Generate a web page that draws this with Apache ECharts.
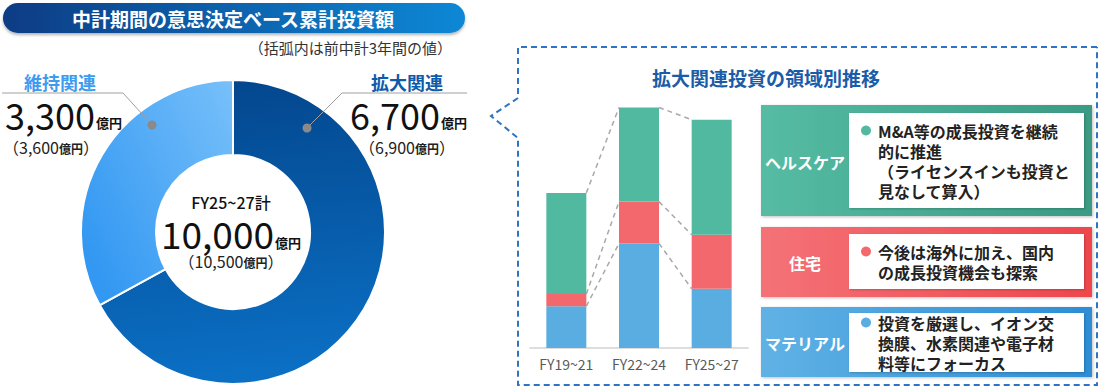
<!DOCTYPE html>
<html><head><meta charset="utf-8">
<script src="https://cdn.jsdelivr.net/npm/echarts@6/dist/echarts.min.js"></script>
<style>html,body{margin:0;padding:0;background:#fff;}#c{width:1100px;height:391px;}</style>
</head><body><div id="c"></div>
<script>
// ---- data ----
const donutNames = ['拡大関連', '維持関連'];
const donutValues = [6700, 3300];
const donutPrevValues = [6900, 3600];
const donutTotal = 10000;
const donutPrevTotal = 10500;
const totalPeriodLabel = 'FY25~27計';

const categories = ['FY19~21', 'FY22~24', 'FY25~27'];
const materialValues = [1200, 3000, 1700];
const housingValues = [350, 1200, 1550];
const healthcareValues = [2900, 2700, 3300];

const areaLabels = ['ヘルスケア', '住宅', 'マテリアル'];
const areaTexts = [
  'M&A等の成長投資を継続\n的に推進\n（ライセンスインも投資と\n見なして算入）',
  '今後は海外に加え、国内\nの成長投資機会も探索',
  '投資を厳選し、イオン交\n換膜、水素関連や電子材\n料等にフォーカス'
];

// ---- styles ----
const FONT = '"Noto Sans CJK JP", "Noto Sans", sans-serif';
const C_GREEN = '#52b9a1', C_RED = '#f2686c', C_BLUE = '#5aade1';
const BAR_W = 40;
const fmt = v => v.toLocaleString('en-US');

function grad(x, y, x2, y2, c1, c2) {
  return new echarts.graphic.LinearGradient(x, y, x2, y2, [{offset: 0, color: c1}, {offset: 1, color: c2}]);
}

function numText(x, y, value, size, align) {
  return {
    type: 'text', z: 100,
    style: {
      x: x, y: y, align: align, verticalAlign: 'middle',
      text: '{n|' + fmt(value) + '}{u|億円}',
      rich: {
        n: {fontSize: size, fontFamily: FONT, fill: '#111', fontWeight: 'normal', lineHeight: size * 0.9},
        u: {fontSize: 13, fontFamily: FONT, fill: '#111', fontWeight: 'bold', verticalAlign: 'bottom', padding: [0, 0, 1, 1], lineHeight: 14}
      }
    }
  };
}
function prevText(x, y, value, align) {
  return {
    type: 'text', z: 100,
    style: {
      x: x, y: y, align: align, verticalAlign: 'middle',
      text: '{p|（' + fmt(value) + '}{u|億円}{p|）}',
      rich: {
        p: {fontSize: 16, fontFamily: FONT, fill: '#222', lineHeight: 18},
        u: {fontSize: 12, fontFamily: FONT, fill: '#222', fontWeight: 'bold', verticalAlign: 'bottom', padding: [0, 0, 1, 0], lineHeight: 14}
      }
    }
  };
}

const boxes = [
  {y: 105, h: 111, iy: 113, ih: 95, c1: '#55bca3', c2: '#3a9a83', dot: C_GREEN},
  {y: 227, h: 70, iy: 234, ih: 55, c1: '#f47277', c2: '#ed474d', dot: C_RED},
  {y: 307, h: 70, iy: 313, ih: 59, c1: '#60b2e5', c2: '#2d8dd5', dot: C_BLUE}
];
const boxGraphics = [];
boxes.forEach((b, i) => {
  const lines = areaTexts[i].split('\n').length;
  const textTop = b.iy + b.ih / 2 - lines * 10;
  boxGraphics.push(
    {type: 'rect', z: 90, shape: {x: 761, y: b.y, width: 331, height: b.h},
     style: {fill: grad(0, 0, 1, 0, b.c1, b.c2), shadowBlur: 3, shadowOffsetX: 1, shadowOffsetY: 1, shadowColor: 'rgba(0,0,0,0.25)'}},
    {type: 'rect', z: 91, shape: {x: 849, y: b.iy, width: 235, height: b.ih},
     style: {fill: '#fff', shadowBlur: 2, shadowOffsetX: 1, shadowOffsetY: 1, shadowColor: 'rgba(0,0,0,0.2)'}},
    {type: 'text', z: 92, style: {x: 805, y: b.y + b.h / 2 + 1, align: 'center', verticalAlign: 'middle',
      text: areaLabels[i], fill: '#fff', font: 'bold 16px ' + FONT}},
    {type: 'circle', z: 92, shape: {cx: 866, cy: textTop + 10, r: 5}, style: {fill: b.dot}},
    {type: 'text', z: 92, style: {x: 878, y: textTop, align: 'left', verticalAlign: 'top',
      text: areaTexts[i], fill: '#222', font: 'bold 16px ' + FONT, lineHeight: 20}}
  );
});

const chart = echarts.init(document.getElementById('c'), null, {renderer: 'svg'});
chart.setOption({
  animation: false,
  grid: {left: 530, width: 218, top: 104, height: 244},
  xAxis: {
    type: 'category', data: categories,
    axisLine: {lineStyle: {color: '#d2d2d2', width: 1.5}},
    axisTick: {show: false},
    axisLabel: {color: '#5a5a5a', fontSize: 14, fontFamily: FONT, margin: 9}
  },
  yAxis: {type: 'value', min: 0, max: 7000, show: false},
  series: [
    {
      type: 'pie', center: [233, 232], radius: [77, 152], startAngle: 90, clockwise: true,
      silent: true, label: {show: false}, labelLine: {show: false},
      itemStyle: {borderColor: '#fff', borderWidth: 2},
      data: [
        {name: donutNames[0], value: donutValues[0], itemStyle: {color: grad(0.3, 0, 0.4, 1, '#03468d', '#0b70c5')}},
        {name: donutNames[1], value: donutValues[1], itemStyle: {color: grad(1, 0, 0, 0.7, '#78c0fa', '#3398f2')}}
      ]
    },
    {type: 'bar', stack: 's', barWidth: BAR_W, data: materialValues, itemStyle: {color: C_BLUE}, silent: true},
    {type: 'bar', stack: 's', barWidth: BAR_W, data: housingValues, itemStyle: {color: C_RED}, silent: true},
    {type: 'bar', stack: 's', barWidth: BAR_W, data: healthcareValues, itemStyle: {color: C_GREEN}, silent: true},
    {
      type: 'custom', silent: true, z: 1,
      data: [[0, 0], [1, 0]],
      encode: {x: 0, y: 1},
      renderItem: function (params, api) {
        const i = params.dataIndex;
        const cum = j => [materialValues[j], materialValues[j] + housingValues[j], materialValues[j] + housingValues[j] + healthcareValues[j]];
        const a = cum(i), b = cum(i + 1);
        const children = a.map((v, k) => {
          const p1 = api.coord([i, v]);
          const p2 = api.coord([i + 1, b[k]]);
          return {type: 'line', shape: {x1: p1[0] + BAR_W / 2, y1: p1[1], x2: p2[0] - BAR_W / 2, y2: p2[1]},
            style: {stroke: '#a8a8a8', lineWidth: 1.5, lineDash: [5, 4], fill: null}};
        });
        return {type: 'group', children: children};
      }
    }
  ],
  graphic: [
    {type: 'rect', z: 100, shape: {x: 3, y: 3, width: 462, height: 30, r: 15},
     style: {fill: grad(0, 0, 1, 0, '#073c84', '#0d88d6'), shadowBlur: 3, shadowOffsetY: 2, shadowColor: 'rgba(0,0,0,0.3)'}},
    {type: 'text', z: 101, style: {x: 233, y: 18, align: 'center', verticalAlign: 'middle',
      text: '中計期間の意思決定ベース累計投資額', fill: '#fff', font: 'bold 19px ' + FONT}},
    {type: 'text', z: 100, style: {x: 452, y: 47, align: 'right', verticalAlign: 'middle',
      text: '（括弧内は前中計3年間の値）', fill: '#333', font: '15px ' + FONT}},

    {type: 'text', z: 100, style: {x: 60, y: 82, align: 'center', verticalAlign: 'middle',
      text: donutNames[1], fill: '#3d9bf0', font: 'bold 18px ' + FONT}},
    {type: 'polyline', z: 100, shape: {points: [[2, 93], [123, 93], [152, 125]]}, style: {stroke: '#a0a0a0', lineWidth: 1, fill: null}},
    {type: 'circle', z: 100, shape: {cx: 152, cy: 125, r: 4.5}, style: {fill: '#8a8a8a'}},
    numText(5, 114, donutValues[1], 36, 'left'),
    prevText(51, 147, donutPrevValues[1], 'center'),

    {type: 'text', z: 100, style: {x: 407, y: 82, align: 'center', verticalAlign: 'middle',
      text: donutNames[0], fill: '#0d5cab', font: 'bold 18px ' + FONT}},
    {type: 'polyline', z: 100, shape: {points: [[467, 93], [342, 93], [307, 128]]}, style: {stroke: '#a0a0a0', lineWidth: 1, fill: null}},
    {type: 'circle', z: 100, shape: {cx: 307, cy: 128, r: 4.5}, style: {fill: '#8a8a8a'}},
    numText(350, 114, donutValues[0], 36, 'left'),
    prevText(407, 147, donutPrevValues[0], 'center'),

    {type: 'text', z: 100, style: {x: 231, y: 202, align: 'center', verticalAlign: 'middle',
      text: totalPeriodLabel, fill: '#111', font: '500 16px ' + FONT}},
    numText(231, 233, donutTotal, 37, 'center'),
    prevText(231, 261, donutPrevTotal, 'center'),

    {type: 'polyline', z: 80, shape: {points: [[1097, 47], [518, 47], [518, 98], [491, 116], [518, 138], [518, 385], [1097, 385], [1097, 47]]},
     style: {stroke: '#2e74c4', lineWidth: 2, lineDash: [6, 4], fill: null}},
    {type: 'text', z: 100, style: {x: 766, y: 77, align: 'center', verticalAlign: 'middle',
      text: '拡大関連投資の領域別推移', fill: '#1a5ca8', font: 'bold 19px ' + FONT}}
  ].concat(boxGraphics)
});
</script></body></html>
